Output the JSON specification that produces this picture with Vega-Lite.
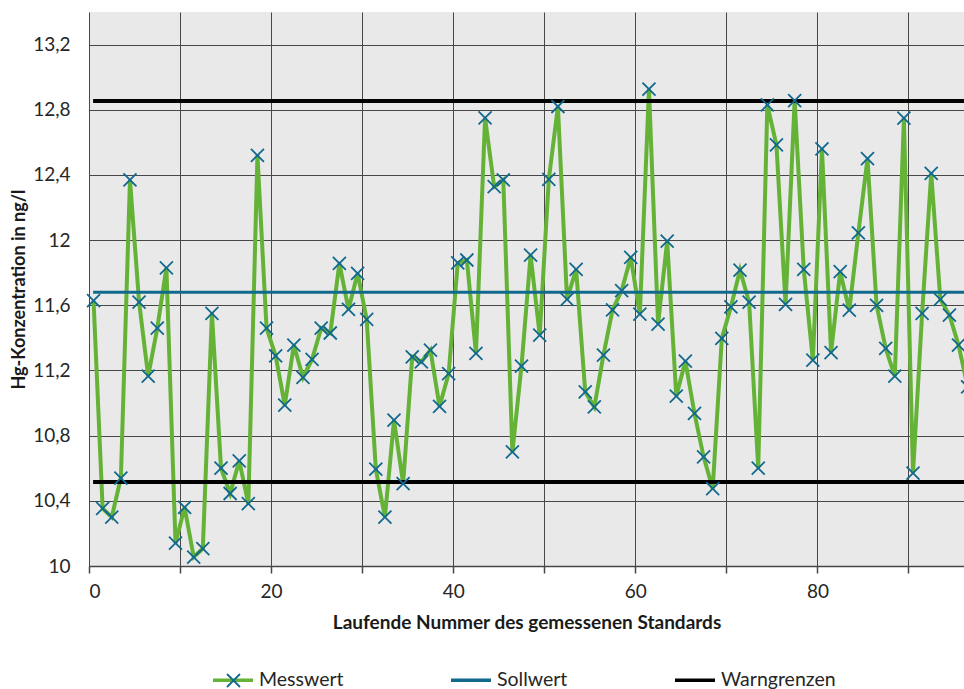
{
  "$schema": "https://vega.github.io/schema/vega-lite/v6.json",
  "width": 875,
  "height": 554,
  "autosize": {"type": "none"},
  "padding": {"left": 89, "top": 12, "right": 0, "bottom": 123},
  "background": "white",
  "view": {"fill": "#e9e9e9", "stroke": null},
  "config": {
    "font": "Lato",
    "legend": {"padding": 0, "title": null}
  },
  "datasets": {
    "mess": [
      {"x": 0.5, "y": 11.628}, {"x": 1.5, "y": 10.353}, {"x": 2.5, "y": 10.30}, {"x": 3.5, "y": 10.54},
      {"x": 4.5, "y": 12.37}, {"x": 5.5, "y": 11.62}, {"x": 6.5, "y": 11.165}, {"x": 7.5, "y": 11.46},
      {"x": 8.5, "y": 11.83}, {"x": 9.5, "y": 10.14}, {"x": 10.5, "y": 10.36}, {"x": 11.5, "y": 10.055},
      {"x": 12.5, "y": 10.107}, {"x": 13.5, "y": 11.55}, {"x": 14.5, "y": 10.60}, {"x": 15.5, "y": 10.445},
      {"x": 16.5, "y": 10.645}, {"x": 17.5, "y": 10.383}, {"x": 18.5, "y": 12.52}, {"x": 19.5, "y": 11.46},
      {"x": 20.5, "y": 11.29}, {"x": 21.5, "y": 10.987}, {"x": 22.5, "y": 11.356}, {"x": 23.5, "y": 11.157},
      {"x": 24.5, "y": 11.268}, {"x": 25.5, "y": 11.46}, {"x": 26.5, "y": 11.43}, {"x": 27.5, "y": 11.857},
      {"x": 28.5, "y": 11.575}, {"x": 29.5, "y": 11.796}, {"x": 30.5, "y": 11.513}, {"x": 31.5, "y": 10.594},
      {"x": 32.5, "y": 10.30}, {"x": 33.5, "y": 10.895}, {"x": 34.5, "y": 10.506}, {"x": 35.5, "y": 11.284},
      {"x": 36.5, "y": 11.253}, {"x": 37.5, "y": 11.325}, {"x": 38.5, "y": 10.98}, {"x": 39.5, "y": 11.18},
      {"x": 40.5, "y": 11.86}, {"x": 41.5, "y": 11.878}, {"x": 42.5, "y": 11.305}, {"x": 43.5, "y": 12.75},
      {"x": 44.5, "y": 12.328}, {"x": 45.5, "y": 12.37}, {"x": 46.5, "y": 10.70}, {"x": 47.5, "y": 11.227},
      {"x": 48.5, "y": 11.908}, {"x": 49.5, "y": 11.417}, {"x": 50.5, "y": 12.373}, {"x": 51.5, "y": 12.82},
      {"x": 52.5, "y": 11.636}, {"x": 53.5, "y": 11.82}, {"x": 54.5, "y": 11.069}, {"x": 55.5, "y": 10.977},
      {"x": 56.5, "y": 11.294}, {"x": 57.5, "y": 11.572}, {"x": 58.5, "y": 11.69}, {"x": 59.5, "y": 11.894},
      {"x": 60.5, "y": 11.546}, {"x": 61.5, "y": 12.926}, {"x": 62.5, "y": 11.485}, {"x": 63.5, "y": 11.994},
      {"x": 64.5, "y": 11.042}, {"x": 65.5, "y": 11.257}, {"x": 66.5, "y": 10.936}, {"x": 67.5, "y": 10.67},
      {"x": 68.5, "y": 10.475}, {"x": 69.5, "y": 11.397}, {"x": 70.5, "y": 11.59}, {"x": 71.5, "y": 11.816},
      {"x": 72.5, "y": 11.62}, {"x": 73.5, "y": 10.60}, {"x": 74.5, "y": 12.83}, {"x": 75.5, "y": 12.584},
      {"x": 76.5, "y": 11.605}, {"x": 77.5, "y": 12.856}, {"x": 78.5, "y": 11.82}, {"x": 79.5, "y": 11.263},
      {"x": 80.5, "y": 12.56}, {"x": 81.5, "y": 11.31}, {"x": 82.5, "y": 11.806}, {"x": 83.5, "y": 11.57},
      {"x": 84.5, "y": 12.045}, {"x": 85.5, "y": 12.50}, {"x": 86.5, "y": 11.60}, {"x": 87.5, "y": 11.335},
      {"x": 88.5, "y": 11.165}, {"x": 89.5, "y": 12.748}, {"x": 90.5, "y": 10.57}, {"x": 91.5, "y": 11.55},
      {"x": 92.5, "y": 12.41}, {"x": 93.5, "y": 11.636}, {"x": 94.5, "y": 11.54}, {"x": 95.5, "y": 11.356},
      {"x": 96.5, "y": 11.10}
    ],
    "ref": [
      {"series": "Sollwert", "line": "soll", "x": 0.45, "y": 11.68},
      {"series": "Sollwert", "line": "soll", "x": 97, "y": 11.68},
      {"series": "Warngrenzen", "line": "oben", "x": 0.45, "y": 12.854},
      {"series": "Warngrenzen", "line": "oben", "x": 97, "y": 12.854},
      {"series": "Warngrenzen", "line": "unten", "x": 0.45, "y": 10.516},
      {"series": "Warngrenzen", "line": "unten", "x": 97, "y": 10.516}
    ]
  },
  "layer": [
    {
      "data": {"name": "mess"},
      "mark": {"type": "line", "strokeWidth": 4, "clip": true},
      "encoding": {
        "x": {
          "field": "x", "type": "quantitative",
          "scale": {"domain": [0, 96.1], "nice": false, "zero": false},
          "axis": {
            "values": [0, 10, 20, 30, 40, 50, 60, 70, 80, 90],
            "labelExpr": "datum.value % 20 === 0 ? datum.label : ''",
            "grid": true, "gridColor": "#474747", "gridWidth": 1, "gridOpacity": 1,
            "domainColor": "#474747", "domainWidth": 1.5,
            "tickColor": "#474747", "tickSize": 7, "tickWidth": 1.5,
            "labelFont": "Lato", "labelFontSize": 19, "labelColor": "#262626", "labelPadding": 9,
            "title": "Laufende Nummer des gemessenen Standards",
            "titleFont": "Lato", "titleFontSize": 19, "titleFontWeight": "bold", "titleColor": "#1a1a1a",
            "titlePadding": 12
          }
        },
        "y": {
          "field": "y", "type": "quantitative",
          "scale": {"domain": [10, 13.4], "nice": false, "zero": false},
          "axis": {
            "values": [10, 10.4, 10.8, 11.2, 11.6, 12, 12.4, 12.8, 13.2],
            "labelExpr": "replace(format(datum.value, '.1~f'), '.', ',')",
            "grid": true, "gridColor": "#474747", "gridWidth": 1, "gridOpacity": 1,
            "domain": false, "ticks": false,
            "labelFont": "Lato", "labelFontSize": 19, "labelColor": "#262626", "labelPadding": 19,
            "title": "Hg-Konzentration in ng/l",
            "titleFont": "Lato", "titleFontSize": 18, "titleFontWeight": "bold", "titleColor": "#1a1a1a",
            "titlePadding": 4
          }
        },
        "color": {
          "datum": "Messwert", "type": "nominal",
          "scale": {"domain": ["Messwert", "Sollwert", "Warngrenzen"], "range": ["#64B236", "#11698E", "#000000"]},
          "legend": {
            "orient": "none", "legendX": 122, "legendY": 646, "direction": "horizontal", "title": null,
            "symbolType": "stroke", "symbolSize": 1600, "symbolStrokeWidth": 3.5,
            "labelFont": "Lato", "labelFontSize": 19.5, "labelColor": "#262626", "labelOffset": 4,
            "columnPadding": 100
          }
        }
      }
    },
    {
      "data": {"name": "ref"},
      "mark": {"type": "line", "clip": true},
      "encoding": {
        "x": {"field": "x", "type": "quantitative"},
        "y": {"field": "y", "type": "quantitative"},
        "color": {
          "field": "series", "type": "nominal",
          "legend": {
            "orient": "none", "legendX": 122, "legendY": 646, "direction": "horizontal", "title": null,
            "symbolType": "stroke", "symbolSize": 1600, "symbolStrokeWidth": 3.5,
            "labelFont": "Lato", "labelFontSize": 19.5, "labelColor": "#262626", "labelOffset": 4,
            "columnPadding": 100
          }
        },
        "detail": {"field": "line"},
        "strokeWidth": {
          "field": "series", "type": "nominal",
          "scale": {"domain": ["Sollwert", "Warngrenzen"], "range": [3, 4]},
          "legend": null
        }
      }
    },
    {
      "data": {"name": "mess"},
      "mark": {"type": "point", "filled": false, "stroke": "#11698E", "strokeWidth": 1.8, "size": 169, "opacity": 1},
      "encoding": {
        "x": {"field": "x", "type": "quantitative"},
        "y": {"field": "y", "type": "quantitative"},
        "shape": {
          "datum": "Messwert", "type": "nominal",
          "scale": {"domain": ["Messwert"], "range": ["M-1,-1L1,1M-1,1L1,-1"]},
          "legend": {
            "orient": "none", "legendX": 135.5, "legendY": 659.5, "title": null,
            "symbolSize": 169, "symbolStrokeColor": "#11698E", "symbolFillColor": "transparent",
            "symbolStrokeWidth": 1.8, "labelExpr": "''", "labelFontSize": 18
          }
        }
      }
    }
  ]
}
